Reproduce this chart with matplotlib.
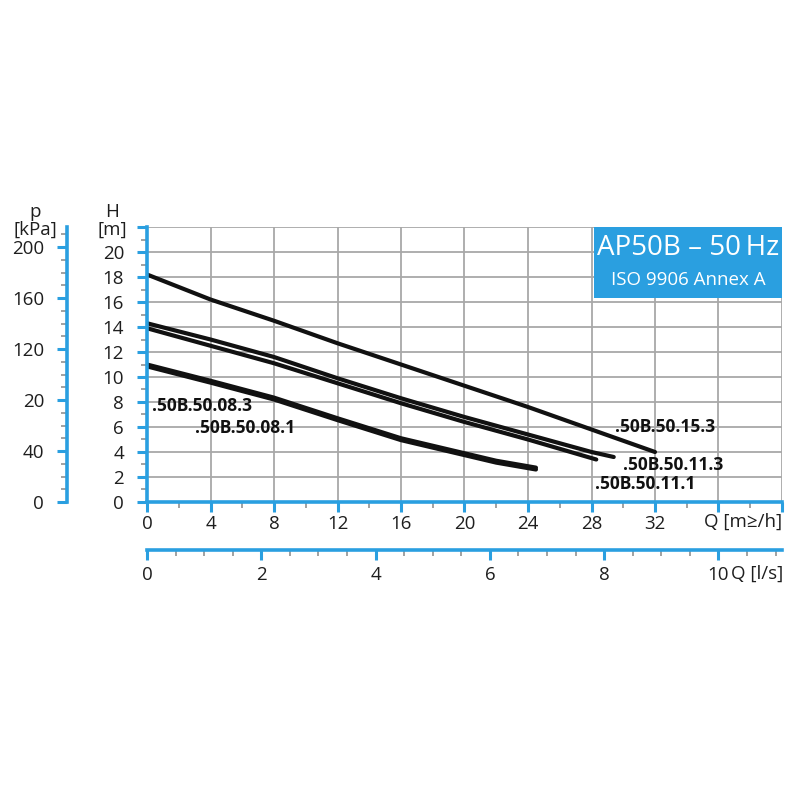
import numpy as np
import matplotlib.pyplot as plt
from matplotlib.patches import Rectangle
from matplotlib.ticker import FixedLocator, FixedFormatter

plt.rcParams['font.family'] = ['Open Sans', 'DejaVu Sans']

BLUE = '#2a9fe0'
GRAY = '#a8a8a8'
TXT = '#1e1e1e'
FS = 13.5

# Kennlinien (Q in m3/h, H in m)
q_153 = [0, 4, 8, 12, 16, 20, 24, 28, 32]
h_153 = [18.2, 16.2, 14.5, 12.7, 11.0, 9.3, 7.6, 5.8, 4.0]
q_113 = [0, 4, 8, 12, 16, 20, 24, 28, 29.4]
h_113 = [14.3, 13.0, 11.6, 9.9, 8.3, 6.8, 5.4, 4.0, 3.6]
q_111 = [0, 4, 8, 12, 16, 20, 24, 28.3]
h_111 = [13.9, 12.5, 11.1, 9.5, 7.9, 6.4, 5.0, 3.4]
q_083 = [0, 4, 8, 12, 16, 20, 22, 24.5]
h_083 = [11.0, 9.7, 8.35, 6.7, 5.1, 3.9, 3.3, 2.75]
q_081 = [0, 4, 8, 12, 16, 20, 22, 24.5]
h_081 = [10.85, 9.55, 8.2, 6.55, 4.95, 3.75, 3.15, 2.6]

curve_labels = ['.50B.50.08.3', '.50B.50.08.1', '.50B.50.15.3',
                '.50B.50.11.3', '.50B.50.11.1']
label_pos = [(0.3, 7.68), (3.0, 5.92), (29.5, 6.0), (30.0, 2.96), (28.2, 1.44)]

h_ticks = np.arange(0, 23, 2)
h_ticklabels = [str(v) for v in range(0, 21, 2)] + ['']
q_ticks = np.arange(0, 41, 4)
q_ticklabels = [str(v) for v in range(0, 33, 4)] + ['', '']
p_ticks = [0, 40, 80, 120, 160, 200]
p_ticklabels = ['0', '40', '20', '120', '160', '200']
ls_ticks = [0, 2, 4, 6, 8, 10]
ls_ticklabels = ['0', '2', '4', '6', '8', '10']

QMAX = 40
HMAX = 22

fig = plt.figure(figsize=(8, 8), dpi=100)
W, Hp = 800, 800


def frac_x(px):
    return px / W


def frac_y(py):
    return 1 - py / Hp


left, right, bottom, top = 147, 782, 502, 227
ax = fig.add_axes([frac_x(left), frac_y(bottom), frac_x(right - left), (bottom - top) / Hp])
ax.set_xlim(0, QMAX)
ax.set_ylim(0, HMAX)

for s in ['top', 'right']:
    ax.spines[s].set_visible(False)
for s in ['left', 'bottom']:
    ax.spines[s].set_color(BLUE)
    ax.spines[s].set_linewidth(2.6)
    ax.spines[s].set_zorder(5)

ax.xaxis.set_major_locator(FixedLocator(q_ticks))
ax.xaxis.set_major_formatter(FixedFormatter(q_ticklabels))
ax.xaxis.set_minor_locator(FixedLocator(np.arange(2, 40, 4)))
ax.yaxis.set_major_locator(FixedLocator(h_ticks))
ax.yaxis.set_major_formatter(FixedFormatter(h_ticklabels))
ax.yaxis.set_minor_locator(FixedLocator(np.arange(1, 22, 2)))

ax.tick_params(which='major', direction='out', length=7.5, width=2.2, color=BLUE,
               labelsize=FS, labelcolor=TXT)
ax.tick_params(which='minor', direction='out', length=4, width=1.1, color='#888888')
ax.tick_params(axis='y', which='major', pad=9)
ax.tick_params(axis='x', which='major', pad=2)
ax.grid(which='major', color=GRAY, linewidth=1.3, zorder=0)
ax.set_axisbelow(True)

# Kennlinien
lw = 3.0
for q, h in [(q_153, h_153), (q_113, h_113), (q_111, h_111), (q_083, h_083), (q_081, h_081)]:
    ax.plot(q, h, color='#111111', lw=lw, solid_capstyle='round',
            solid_joinstyle='round', zorder=3)

for txt, (x, y) in zip(curve_labels, label_pos):
    ax.text(x, y, txt, fontsize=12.5, fontweight='bold', color='#111111',
            ha='left', va='center', zorder=4)

# Kasten oben rechts
bx0 = (594 - left) / 15.875
by0 = (bottom - 298) / 12.5
ax.add_patch(Rectangle((bx0, by0), QMAX - bx0, HMAX - by0, facecolor=BLUE,
                       edgecolor='none', zorder=4))
ax.text((bx0 + QMAX) / 2, (bottom - 248) / 12.5, 'AP50B \u2013 50\u2009Hz', color='white',
        fontsize=20, ha='center', va='center', zorder=5)
ax.text((bx0 + QMAX) / 2, (bottom - 280) / 12.5, 'ISO 9906 Annex A', color='white',
        fontsize=13.5, ha='center', va='center', zorder=5)

ax.text(1.0, (bottom - 522) / (bottom - top), 'Q [m\u2265/h]', transform=ax.transAxes,
        fontsize=FS, ha='right', va='center', color=TXT)

# p-Achse links
pax = fig.add_axes([frac_x(67), frac_y(bottom), 0.001, (bottom - top) / Hp])
pax.set_ylim(0, HMAX * 9.81)
pax.patch.set_visible(False)
for s in ['top', 'right', 'bottom']:
    pax.spines[s].set_visible(False)
pax.spines['left'].set_color(BLUE)
pax.spines['left'].set_linewidth(2.6)
pax.set_xticks([])
pax.yaxis.set_major_locator(FixedLocator(p_ticks))
pax.yaxis.set_major_formatter(FixedFormatter(p_ticklabels))
pax.yaxis.set_minor_locator(FixedLocator([v for v in range(10, 211, 10) if v % 40]))
pax.tick_params(which='major', direction='out', length=7.5, width=2.2, color=BLUE,
                labelsize=FS, labelcolor=TXT, pad=9)
pax.tick_params(which='minor', direction='out', length=4, width=1.1, color='#888888')

# l/s-Achse unten
lax = fig.add_axes([frac_x(left), frac_y(550), frac_x(right - left), 0.001])
lax.set_xlim(0, QMAX / 3.6)
lax.patch.set_visible(False)
for s in ['top', 'right', 'left']:
    lax.spines[s].set_visible(False)
lax.spines['bottom'].set_color(BLUE)
lax.spines['bottom'].set_linewidth(2.6)
lax.set_yticks([])
lax.xaxis.set_major_locator(FixedLocator(ls_ticks))
lax.xaxis.set_major_formatter(FixedFormatter(ls_ticklabels))
lax.xaxis.set_minor_locator(FixedLocator([v / 2 for v in range(1, 23) if v % 4]))
lax.tick_params(which='major', direction='out', length=7.5, width=2.2, color=BLUE,
                labelsize=FS, labelcolor=TXT, pad=4)
lax.tick_params(which='minor', direction='out', length=4, width=1.1, color='#888888')
fig.text(frac_x(783), frac_y(574), 'Q [l/s]', fontsize=FS, ha='right', va='center',
         color=TXT)

# Achsentitel
fig.text(frac_x(35), frac_y(212), 'p', fontsize=FS, ha='center', va='center', color=TXT)
fig.text(frac_x(35), frac_y(230), '[kPa]', fontsize=FS, ha='center', va='center', color=TXT)
fig.text(frac_x(112), frac_y(212), 'H', fontsize=FS, ha='center', va='center', color=TXT)
fig.text(frac_x(112), frac_y(230), '[m]', fontsize=FS, ha='center', va='center', color=TXT)

fig.savefig('out.png', dpi=100, facecolor='white')
